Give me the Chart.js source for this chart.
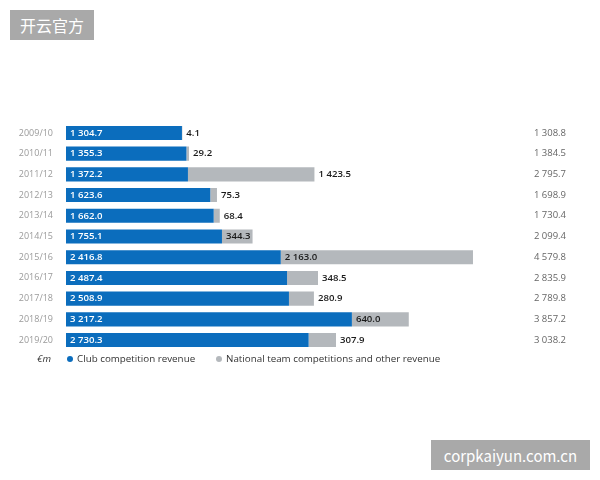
<!DOCTYPE html>
<html>
<head>
<meta charset="utf-8">
<script src="https://cdn.jsdelivr.net/npm/chart.js@4"></script>
<style>
  html, body { margin: 0; padding: 0; background: #fff; }
  #wrap { position: relative; width: 600px; height: 480px; }
  .mark { position: absolute; background: #a9a9a9; color: #fff; font-family: "Noto Sans CJK SC", "Noto Sans", sans-serif; display: flex; align-items: center; justify-content: center; }
</style>
</head>
<body>
<div id="wrap">
  <canvas id="revChart" width="600" height="480"></canvas>
  <div class="mark" style="left:10px;top:10px;width:84px;height:30px;font-size:16px;">开云官方</div>
  <div class="mark" style="left:431px;top:440px;width:159px;height:30px;font-size:15px;">corpkaiyun.com.cn</div>
</div>
<script>
// --- datos ---
const seasons = ['2009/10', '2010/11', '2011/12', '2012/13', '2013/14', '2014/15',
                 '2015/16', '2016/17', '2017/18', '2018/19', '2019/20'];
const clubRevenue = [1304.7, 1355.3, 1372.2, 1623.6, 1662.0, 1755.1,
                     2416.8, 2487.4, 2508.9, 3217.2, 2730.3];
const nationalRevenue = [4.1, 29.2, 1423.5, 75.3, 68.4, 344.3,
                         2163.0, 348.5, 280.9, 640.0, 307.9];
const totals = [1308.8, 1384.5, 2795.7, 1698.9, 1730.4, 2099.4,
                4579.8, 2835.9, 2789.8, 3857.2, 3038.2];
// temporadas cuya etiqueta gris va dentro de la barra
const grayInside = ['2014/15', '2015/16', '2018/19'];

const BLUE = '#0b6dbd';
const GRAY = '#b4b8bc';
const FONT = '"Open Sans", "Noto Sans", sans-serif';

// formato con espacio como separador de miles: 1 304.7
function fmt(v) {
  const [ent, dec] = v.toFixed(1).split('.');
  return ent.replace(/\B(?=(\d{3})+(?!\d))/g, ' ') + '.' + dec;
}

// etiquetas, totales y leyenda dibujados a mano
const labelsPlugin = {
  id: 'labelsPlugin',
  afterDatasetsDraw(chart) {
    const c = chart.ctx;
    const blue = chart.getDatasetMeta(0).data;
    const gray = chart.getDatasetMeta(1).data;
    c.save();
    c.textBaseline = 'middle';
    seasons.forEach((s, i) => {
      const y = blue[i].y;
      // año
      c.font = '9px ' + FONT;
      c.fillStyle = '#9a9a9a';
      c.textAlign = 'right';
      c.fillText(s, 53, y);
      // valor azul
      c.font = '600 9.6px ' + FONT;
      c.fillStyle = '#fff';
      c.textAlign = 'left';
      c.fillText(fmt(clubRevenue[i]), blue[i].base + 4, y);
      // valor gris
      c.fillStyle = '#1a1a1a';
      const g = gray[i];
      const gx = grayInside.includes(s) ? g.base + 4 : g.x + 4;
      c.fillText(fmt(nationalRevenue[i]), gx, y);
      // total
      c.font = '9.5px ' + FONT;
      c.fillStyle = '#666';
      c.textAlign = 'right';
      c.fillText(fmt(totals[i]), 566, y);
    });
    // leyenda
    const ly = 359;
    c.font = 'italic 9.8px ' + FONT;
    c.fillStyle = '#333';
    c.textAlign = 'left';
    c.fillText('€m', 37, ly);
    c.font = '9.8px ' + FONT;
    c.fillStyle = BLUE;
    c.beginPath(); c.arc(70, ly, 3, 0, Math.PI * 2); c.fill();
    c.fillStyle = '#333';
    c.fillText('Club competition revenue', 77, ly);
    c.fillStyle = GRAY;
    c.beginPath(); c.arc(219, ly, 3, 0, Math.PI * 2); c.fill();
    c.fillStyle = '#333';
    c.fillText('National team competitions and other revenue', 226, ly);
    c.restore();
  }
};

new Chart(document.getElementById('revChart'), {
  type: 'bar',
  data: {
    labels: seasons,
    datasets: [
      { label: 'Club competition revenue', data: clubRevenue, backgroundColor: BLUE },
      { label: 'National team competitions and other revenue', data: nationalRevenue, backgroundColor: GRAY }
    ]
  },
  options: {
    indexAxis: 'y',
    responsive: false,
    animation: false,
    layout: { padding: { left: 66, right: 127, top: 122.6, bottom: 129.6 } },
    datasets: { bar: { categoryPercentage: 1, barPercentage: 0.68 } },
    plugins: { legend: { display: false }, tooltip: { enabled: false } },
    scales: {
      x: { stacked: true, display: false, min: 0, max: 4580 },
      y: { stacked: true, display: false }
    }
  },
  plugins: [labelsPlugin]
});
</script>
</body>
</html>
